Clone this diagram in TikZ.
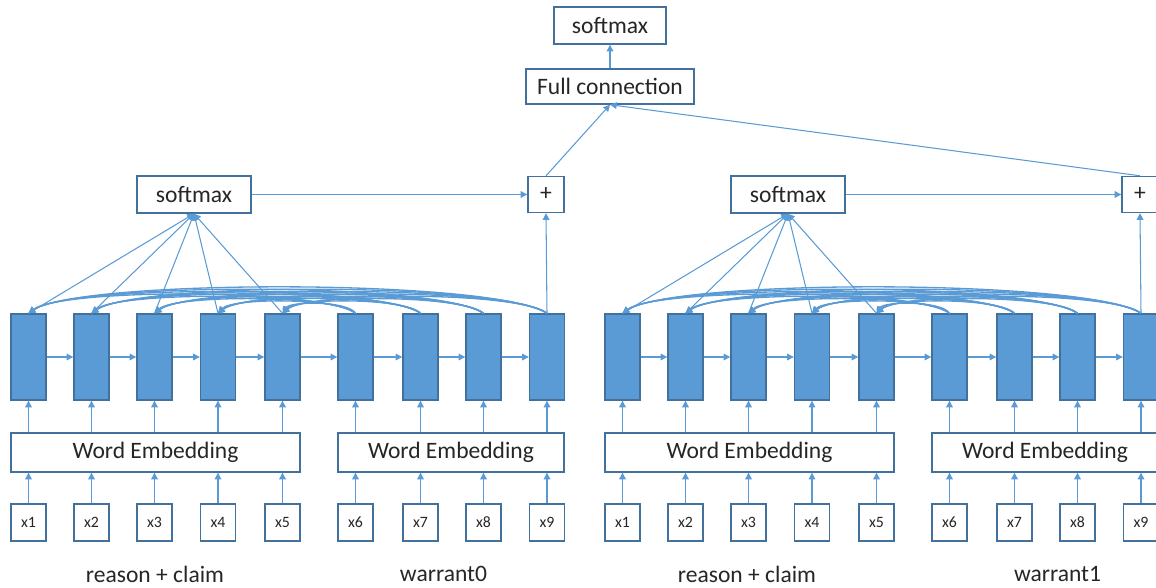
\documentclass[tikz,border=0pt]{standalone}
\usepackage{fontspec}
\setmainfont{Carlito}
\usetikzlibrary{arrows.meta,calc}
\definecolor{cellblue}{HTML}{5B9BD5}
\definecolor{edgeblue}{HTML}{41719C}
\definecolor{textgray}{HTML}{262626}

\begin{document}
\begin{tikzpicture}[
    x=0.02cm, y=-0.02cm,
    every node/.style={font=\fontsize{13.4}{16}\selectfont, text=textgray},
    box/.style={draw=edgeblue, line width=0.8pt, fill=white, inner sep=0pt},
    cell/.style={draw=edgeblue, line width=0.8pt, fill=cellblue,
                 minimum width=0.7cm, minimum height=1.72cm, inner sep=0pt},
    tok/.style={box, minimum width=0.7cm, minimum height=0.74cm,
                font=\fontsize{9}{11}\selectfont},
    emb/.style={box, minimum height=0.78cm},
    flow/.style={draw=cellblue, line width=0.6pt,
                 -{Triangle[length=3.8pt,width=3.8pt]}},
    att/.style={flow, line width=0.6pt},
    back/.style={flow, line width=0.75pt},
]
\useasboundingbox (0,0) rectangle (1156,588);

% output layers
\node[box, minimum width=2.24cm, minimum height=0.74cm] (out) at (610,25.5) {softmax};
\node[box, minimum width=3.36cm, minimum height=0.7cm] (fc) at (610,86.5) {Full connection};
\draw[flow] (fc) -- (out);

% two identical branches: warrant0 (left) and warrant1 (right)
\foreach \s/\dx/\rx/\wx/\wlbl in {L/0/155/443.5/warrant0, R/594/153/463.5/warrant1}{
\begin{scope}[shift={(\dx,0)}]
  \foreach \i/\cx in {1/28.5,2/91.5,3/154.5,4/218,5/282.5,6/355.5,7/420.5,8/483.5,9/547}{
    \node[cell] (\s-c\i) at (\cx,357) {};
    \node[tok] (\s-x\i) at (\cx,522.5) {x\i};
  }
  \node[emb, minimum width=5.78cm] (\s-e1) at (155.5,452.5) {Word Embedding};
  \node[emb, minimum width=4.52cm] (\s-e2) at (451,452.5) {Word Embedding};

  \foreach \i in {1,...,9}{
    \draw[flow] (\s-x\i.north) -- (\s-x\i.north |- \s-e1.south);
    \draw[flow] (\s-c\i.south |- \s-e1.north) -- (\s-c\i.south);
  }
  \foreach \i [evaluate=\i as \n using int(\i+1)] in {1,...,8}
    \draw[flow] (\s-c\i.east) -- (\s-c\n.west);

  \node[box, minimum width=2.28cm, minimum height=0.74cm] (\s-sm) at (194,194.5) {softmax};
  \node[box, minimum size=0.72cm] (\s-add) at (546,194.5) {+};
  \draw[flow] (\s-sm) -- (\s-add);
  \draw[flow] (\s-c9.north) -- (\s-add.south);
  \draw[flow] (\s-add.north) -- (fc.south);

  % attention: scores to softmax, warrant states back to reason+claim
  \foreach \i in {1,...,5}
    \draw[att] (\s-c\i.north) -- (\s-sm.south);
  \foreach \j in {6,...,9}{
    \foreach \i in {1,...,5}{
      \draw[back] let \p1=(\s-c\j.north), \p2=(\s-c\i.north),
                      \n1={\x1-\x2}, \n2={5pt+0.05*\n1} in
        (\p1) .. controls +({-0.1*\n1},{\n2}) and +({0.1*\n1},{\n2}) .. (\p2);
    }
  }

  \node (\s-lab1) at (\rx,574) {reason + claim};
  \node (\s-lab2) at (\wx,574) {\wlbl};
\end{scope}
}
\end{tikzpicture}
\end{document}
